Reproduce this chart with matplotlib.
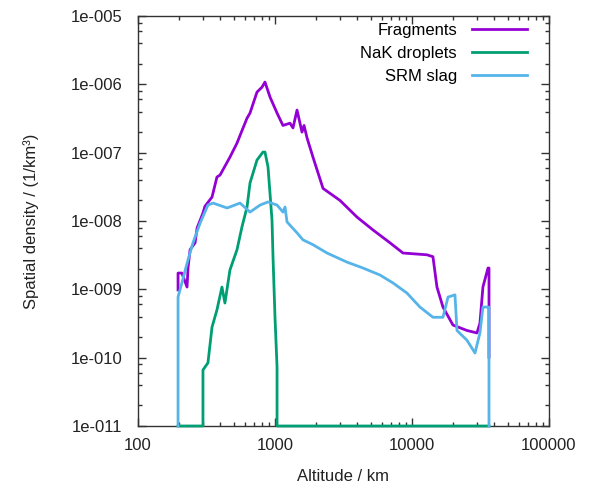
import numpy as np
import matplotlib
matplotlib.use('Agg')
import matplotlib.pyplot as plt
from matplotlib.ticker import FuncFormatter, LogLocator

plt.rcParams['font.family'] = ['Liberation Sans', 'DejaVu Sans']

# values (altitude in km, density in 1/km^3)
# 1e-11 = empty bin, drawn on the bottom axis
frag_alt = [196, 196, 209, 228, 232, 240, 261, 270, 298, 308, 347, 377, 397, 469,
            528, 574, 625, 657, 739, 804, 845, 920, 1035, 1143, 1286, 1353, 1448,
            1574, 1629, 1714, 1893, 2241, 2981, 3969, 5188, 6902, 8590, 12860,
            14220, 15210, 16830, 19910, 25180, 29790, 31330, 32940, 35870, 36480,
            36480]
frag_val = [9.8e-10, 1.73e-9, 1.73e-9, 1.08e-9, 2.1e-9, 3.8e-9, 4.8e-9, 7.9e-9,
            1.31e-8, 1.64e-8, 2.24e-8, 4.4e-8, 4.7e-8, 8.6e-8, 1.38e-7, 2.1e-7,
            3.2e-7, 3.8e-7, 7.7e-7, 9.1e-7, 1.08e-6, 6.5e-7, 3.8e-7, 2.5e-7,
            2.7e-7, 2.3e-7, 4.2e-7, 2.0e-7, 2.5e-7, 1.64e-7, 8.6e-8, 3.0e-8,
            2.0e-8, 1.14e-8, 7.4e-9, 4.8e-9, 3.4e-9, 3.2e-9, 3.0e-9, 1.08e-9,
            5.5e-10, 3.0e-10, 2.5e-10, 2.3e-10, 3.2e-10, 1.08e-9, 2.05e-9,
            2.05e-9, 1.02e-10]

nak_alt = [196, 298, 298, 324, 347, 377, 410, 431, 469, 528, 574, 625, 657, 739,
           817, 845, 889, 951, 967, 1000, 1035, 1035, 36480]
nak_val = [1e-11, 1e-11, 6.6e-11, 8.4e-11, 2.8e-10, 5.0e-10, 1.08e-9, 6.3e-10,
           1.92e-9, 3.8e-9, 8.2e-9, 1.6e-8, 3.6e-8, 7.8e-8, 1.02e-7, 1.02e-7,
           6.2e-8, 1.03e-8, 3.0e-9, 3.9e-10, 7.3e-11, 1e-11, 1e-11]

srm_alt = [196, 196, 209, 228, 252, 284, 324, 353, 447, 556, 657, 778, 889, 1035,
           1143, 1183, 1224, 1448, 1600, 1893, 2397, 3355, 4389, 5836, 7261,
           9198, 11430, 14220, 16830, 18320, 20590, 21290, 25180, 28830, 31330,
           32940, 35870, 36480, 36480]
srm_val = [1e-11, 7.7e-10, 1.24e-9, 2.4e-9, 4.8e-9, 9.3e-9, 1.71e-8, 1.83e-8,
           1.55e-8, 1.83e-8, 1.35e-8, 1.71e-8, 1.9e-8, 1.71e-8, 1.35e-8, 1.6e-8,
           9.7e-9, 6.7e-9, 5.3e-9, 4.5e-9, 3.4e-9, 2.5e-9, 2.05e-9, 1.62e-9,
           1.24e-9, 8.8e-10, 5.5e-10, 3.9e-10, 3.9e-10, 7.7e-10, 8.3e-10,
           2.5e-10, 1.8e-10, 1.17e-10, 2.3e-10, 5.5e-10, 5.5e-10, 5.5e-10, 1e-11]

fig = plt.figure(figsize=(5.9, 4.95), dpi=100)
ax = fig.add_axes([0.2339, 0.1394, 0.6966, 0.8283])

ax.plot(frag_alt, frag_val, color='#9400d3', lw=2, label='Fragments', clip_on=False, zorder=3)
ax.plot(nak_alt, nak_val, color='#009e73', lw=2, label='NaK droplets', clip_on=False, zorder=3)
ax.plot(srm_alt, srm_val, color='#56b4e9', lw=2, label='SRM slag', clip_on=False, zorder=3)

ax.set_xscale('log')
ax.set_yscale('log')
ax.set_xlim(100, 100000)
ax.set_ylim(1e-11, 1e-5)

ax.xaxis.set_major_formatter(FuncFormatter(lambda v, p: '%d' % round(v)))
ax.yaxis.set_major_formatter(FuncFormatter(lambda v, p: '1e-%03d' % round(-np.log10(v))))
ax.xaxis.set_minor_locator(LogLocator(base=10, subs=np.arange(2, 10), numticks=20))
ax.yaxis.set_minor_locator(LogLocator(base=10, subs=[2, 4, 6, 8], numticks=20))
ax.xaxis.set_minor_formatter(FuncFormatter(lambda v, p: ''))
ax.yaxis.set_minor_formatter(FuncFormatter(lambda v, p: ''))

ax.tick_params(which='both', direction='in', top=True, right=True, labelsize=12,
               color='#333333', labelcolor='#222222')
ax.tick_params(axis='x', pad=9)
ax.tick_params(axis='y', pad=11)
ax.tick_params(which='major', length=6, width=1)
ax.tick_params(which='minor', length=3, width=1)
for s in ax.spines.values():
    s.set_color('#333333')
    s.set_linewidth(1)

ax.set_xlabel('Altitude / km', fontsize=12, color='#222222', labelpad=11)
ax.set_ylabel('Spatial density / (1/km³)', fontsize=12, color='#222222', labelpad=23)

ax.legend(loc='upper right', frameon=False, markerfirst=False, fontsize=12,
          handlelength=3.3, handletextpad=0.9, labelspacing=0.5,
          borderaxespad=0, bbox_to_anchor=(0.963, 1.0))

fig.savefig('out.png', dpi=100)
